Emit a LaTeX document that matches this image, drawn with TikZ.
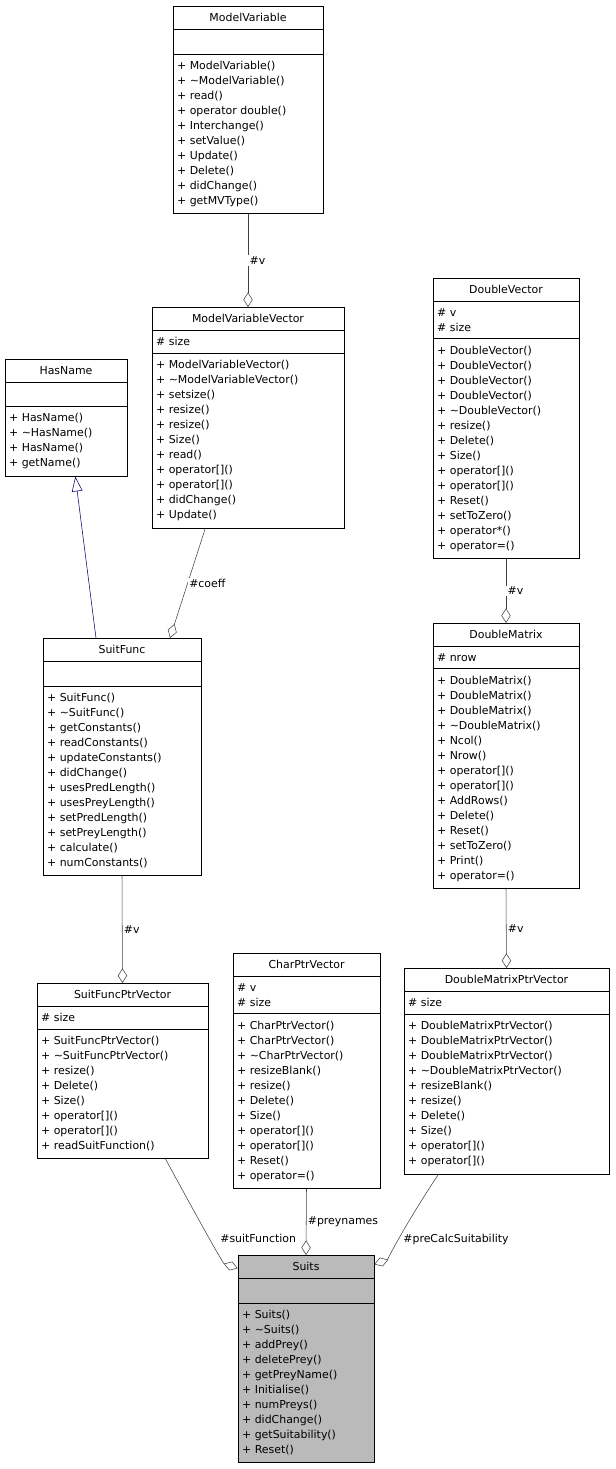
\documentclass[tikz,border=0pt]{standalone}
\usepackage{fontspec}
\setmainfont{DejaVu Sans}
\usetikzlibrary{arrows.meta, shapes.multipart}
\newcommand{\ctitle}[1]{\makebox[\linewidth]{#1}}

\begin{document}
\begin{tikzpicture}[
  x=0.75pt, y=-0.75pt,
  cls/.style={
    rectangle split, rectangle split parts=3, draw, anchor=north,
    text width=#1*0.75pt-6pt, inner xsep=3pt, inner ysep=5.2pt,
    align=left, font=\fontsize{8.2}{11.25}\selectfont, fill=white
  },
  agg/.style={draw=black!75, -{Diamond[open, length=11pt, width=7pt]}},
  inh/.style={draw=blue!40!black, -{Triangle[open, length=11pt, width=8pt]}},
  lbl/.style={font=\fontsize{8.2}{10}\selectfont, fill=white, inner sep=1pt}
]
\useasboundingbox (0,0) rectangle (615,1469);

% Classes
\node[cls=150] (ModelVariable) at (248,6) {\ctitle{ModelVariable}
  \nodepart{second}\vphantom{Hg}
  \nodepart{third}+ ModelVariable()\\+ \textasciitilde ModelVariable()\\+ read()\\+ operator double()\\+ Interchange()\\+ setValue()\\+ Update()\\+ Delete()\\+ didChange()\\+ getMVType()};

\node[cls=192] (ModelVariableVector) at (248,307) {\ctitle{ModelVariableVector}
  \nodepart{second}\# size
  \nodepart{third}+ ModelVariableVector()\\+ \textasciitilde ModelVariableVector()\\+ setsize()\\+ resize()\\+ resize()\\+ Size()\\+ read()\\+ operator[]()\\+ operator[]()\\+ didChange()\\+ Update()};

\node[cls=122] (HasName) at (66,359) {\ctitle{HasName}
  \nodepart{second}\vphantom{Hg}
  \nodepart{third}+ HasName()\\+ \textasciitilde HasName()\\+ HasName()\\+ getName()};

\node[cls=146] (DoubleVector) at (506,278) {\ctitle{DoubleVector}
  \nodepart{second}\# v\\\# size
  \nodepart{third}+ DoubleVector()\\+ DoubleVector()\\+ DoubleVector()\\+ DoubleVector()\\+ \textasciitilde DoubleVector()\\+ resize()\\+ Delete()\\+ Size()\\+ operator[]()\\+ operator[]()\\+ Reset()\\+ setToZero()\\+ operator*()\\+ operator=()};

\node[cls=158] (SuitFunc) at (122,638) {\ctitle{SuitFunc}
  \nodepart{second}\vphantom{Hg}
  \nodepart{third}+ SuitFunc()\\+ \textasciitilde SuitFunc()\\+ getConstants()\\+ readConstants()\\+ updateConstants()\\+ didChange()\\+ usesPredLength()\\+ usesPreyLength()\\+ setPredLength()\\+ setPreyLength()\\+ calculate()\\+ numConstants()};

\node[cls=146] (DoubleMatrix) at (506,623) {\ctitle{DoubleMatrix}
  \nodepart{second}\# nrow
  \nodepart{third}+ DoubleMatrix()\\+ DoubleMatrix()\\+ DoubleMatrix()\\+ \textasciitilde DoubleMatrix()\\+ Ncol()\\+ Nrow()\\+ operator[]()\\+ operator[]()\\+ AddRows()\\+ Delete()\\+ Reset()\\+ setToZero()\\+ Print()\\+ operator=()};

\node[cls=171] (SuitFuncPtrVector) at (122.5,983) {\ctitle{SuitFuncPtrVector}
  \nodepart{second}\# size
  \nodepart{third}+ SuitFuncPtrVector()\\+ \textasciitilde SuitFuncPtrVector()\\+ resize()\\+ Delete()\\+ Size()\\+ operator[]()\\+ operator[]()\\+ readSuitFunction()};

\node[cls=147] (CharPtrVector) at (306.5,953) {\ctitle{CharPtrVector}
  \nodepart{second}\# v\\\# size
  \nodepart{third}+ CharPtrVector()\\+ CharPtrVector()\\+ \textasciitilde CharPtrVector()\\+ resizeBlank()\\+ resize()\\+ Delete()\\+ Size()\\+ operator[]()\\+ operator[]()\\+ Reset()\\+ operator=()};

\node[cls=205] (DoubleMatrixPtrVector) at (506.5,968) {\ctitle{DoubleMatrixPtrVector}
  \nodepart{second}\# size
  \nodepart{third}+ DoubleMatrixPtrVector()\\+ DoubleMatrixPtrVector()\\+ DoubleMatrixPtrVector()\\+ \textasciitilde DoubleMatrixPtrVector()\\+ resizeBlank()\\+ resize()\\+ Delete()\\+ Size()\\+ operator[]()\\+ operator[]()};

\node[cls=136, fill=black!27] (Suits) at (306,1255) {\ctitle{Suits}
  \nodepart{second}\vphantom{Hg}
  \nodepart{third}+ Suits()\\+ \textasciitilde Suits()\\+ addPrey()\\+ deletePrey()\\+ getPreyName()\\+ Initialise()\\+ numPreys()\\+ didChange()\\+ getSuitability()\\+ Reset()};

% Edges
\draw[agg] (ModelVariable.south) -- (ModelVariableVector.north)
  node[midway, right, lbl] {\#v};
\draw[agg] ([xshift=-32pt]ModelVariableVector.south) -- ([xshift=36pt]SuitFunc.north)
  node[midway, right, lbl] {\#coeff};
\draw[inh] ([xshift=-19.5pt]SuitFunc.north) -- ([xshift=7pt]HasName.south);
\draw[agg] (DoubleVector.south) -- (DoubleMatrix.north)
  node[midway, right, lbl] {\#v};
\draw[agg] (SuitFunc.south) -- (SuitFuncPtrVector.north)
  node[midway, right, lbl] {\#v};
\draw[agg] (DoubleMatrix.south) -- (DoubleMatrixPtrVector.north)
  node[midway, right, lbl] {\#v};
\draw[agg] ([xshift=32pt]SuitFuncPtrVector.south) .. controls +(30,55) and +(-15,-5) .. ([yshift=-10pt]Suits.north west)
  node[pos=0.55, right=6pt, lbl] {\#suitFunction};
\draw[agg] (CharPtrVector.south) -- (Suits.north)
  node[midway, right, lbl] {\#preynames};
\draw[agg] ([xshift=-51pt]DoubleMatrixPtrVector.south) .. controls +(-30,45) and +(12,-4) .. ([yshift=-7pt]Suits.north east)
  node[pos=0.55, right=4pt, lbl] {\#preCalcSuitability};
\end{tikzpicture}
\end{document}
